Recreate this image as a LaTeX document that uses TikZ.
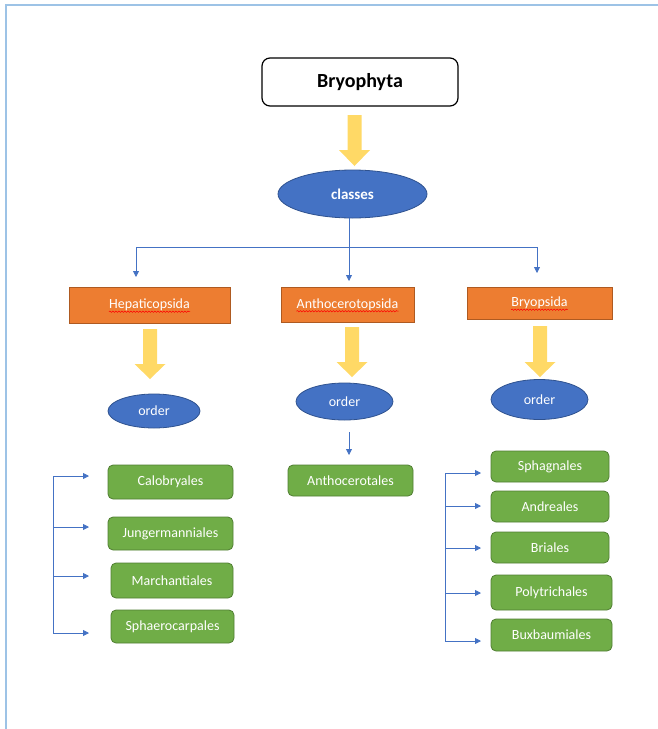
\documentclass[tikz,border=0pt]{standalone}
\usepackage{fontspec}
\setmainfont{Carlito}
\usetikzlibrary{shapes.geometric,arrows.meta,decorations.pathmorphing}
\definecolor{frameblue}{HTML}{9DC3E6}
\definecolor{accblue}{HTML}{4472C4}
\definecolor{accblueD}{HTML}{2F528F}
\definecolor{accorange}{HTML}{ED7D31}
\definecolor{accorangeD}{HTML}{AE5A21}
\definecolor{accgreen}{HTML}{70AD47}
\definecolor{accgreenD}{HTML}{507E32}
\definecolor{accyellow}{HTML}{FFD966}
\newcommand\yarr[4]{% centre x, top y, head start y, tip y
  \fill[accyellow] (#1-7,#2) -- (#1+7,#2) -- (#1+7,#3) -- (#1+15.5,#3) -- (#1,#4)
    -- (#1-15.5,#3) -- (#1-7,#3) -- cycle;}
\begin{document}
\begin{tikzpicture}[x=1pt,y=-1pt,
  topbox/.style={draw=black,line width=1.2pt,rounded corners=8pt,fill=white,
    inner sep=0pt,font=\fontsize{20}{24}\selectfont\bfseries},
  blueell/.style={ellipse,draw=accblueD,line width=0.8pt,fill=accblue,text=white,
    inner sep=0pt,font=\fontsize{14}{17}\selectfont},
  orbox/.style={rectangle,draw=accorangeD,line width=0.8pt,fill=accorange,text=white,
    inner sep=0pt,font=\fontsize{14}{17}\selectfont},
  grbox/.style={rectangle,rounded corners=5pt,draw=accgreenD,line width=0.8pt,fill=accgreen,
    text=white,inner sep=0pt,font=\fontsize{14}{17}\selectfont},
  conn/.style={draw=accblue,line width=0.8pt},
  connarr/.style={conn,-{Triangle[length=6pt,width=6pt]}},
  wavy/.style={draw=red,line width=0.5pt,decorate,
    decoration={snake,amplitude=0.7pt,segment length=3pt}},
  ph/.style={inner sep=0pt,anchor=base,font=\fontsize{14}{17}\selectfont}
]
\useasboundingbox (0,0) rectangle (658,729);
% frame
\draw[frameblue,line width=1.5pt] (6,729) -- (6,5) -- (658,5);

% top
\node[topbox,minimum width=196pt,minimum height=48pt] (bryo) at (360,82) {Bryophyta};
\yarr{354.5}{115}{150}{166}
\node[blueell,minimum width=149pt,minimum height=48pt,font=\fontsize{15}{18}\selectfont\bfseries] (classes) at (352.5,194) {classes};

% classes connectors
\coordinate (hbar) at (349,247);
\coordinate (dl) at (136,247);
\coordinate (dr) at (537,247);
\coordinate (tl) at (136,277);
\coordinate (tm) at (349,281);
\coordinate (tr) at (537,273);
\draw[conn] (classes.south -| hbar) -- (hbar);
\draw[conn] (dl) -- (dr);
\draw[connarr] (dl) -- (tl);
\draw[connarr] (hbar) -- (tm);
\draw[connarr] (dr) -- (tr);

% classes
\node[orbox,minimum width=161pt,minimum height=36pt] (hep) at (149.5,305) {Hepaticopsida};
\node[orbox,minimum width=133pt,minimum height=35pt] (antho) at (347.5,304.5) {Anthocerotopsida};
\node[orbox,minimum width=145pt,minimum height=32pt] (bryops) at (539.5,303) {Bryopsida};
\node[ph] (hepT) at (hep.base) {\phantom{Hepaticopsida}};
\node[ph] (anthoT) at (antho.base) {\phantom{Anthocerotopsida}};
\node[ph] (bryopsT) at (bryops.base) {\phantom{Bryopsida}};
\draw[wavy] ([yshift=-3pt]hepT.base west) -- ([yshift=-3pt]hepT.base east);
\draw[wavy] ([yshift=-3pt]anthoT.base west) -- ([yshift=-3pt]anthoT.base east);
\draw[wavy] ([yshift=-3pt]bryopsT.base west) -- ([yshift=-3pt]bryopsT.base east);

% yellow arrows
\yarr{150}{329}{364}{379}
\yarr{352}{327}{362}{377}
\yarr{540}{326}{362}{377}

% order ellipses
\node[blueell,minimum width=92pt,minimum height=34pt] (ord1) at (154,411) {order};
\node[blueell,minimum width=97pt,minimum height=37pt] (ord2) at (344.5,401.5) {order};
\node[blueell,minimum width=97pt,minimum height=40pt] (ord3) at (539.5,399.5) {order};

% left group
\node[grbox,minimum width=125pt,minimum height=34pt] (calob) at (170.5,482) {Calobryales};
\node[grbox,minimum width=125pt,minimum height=33pt] (junger) at (170.5,533.5) {Jungermanniales};
\node[grbox,minimum width=122pt,minimum height=35pt] (march) at (172,580.5) {Marchantiales};
\node[grbox,minimum width=123pt,minimum height=33pt] (sphaero) at (172.5,626.5) {Sphaerocarpales};
\coordinate (lv1) at (53,476);
\coordinate (lv2) at (53,527);
\coordinate (lv3) at (53,576);
\coordinate (lv4) at (53,633);
\draw[conn] (lv1) -- (lv4);
\draw[connarr] (lv1) -- (89,476);
\draw[connarr] (lv2) -- (89,527);
\draw[connarr] (lv3) -- (89,576);
\draw[connarr] (lv4) -- (89,633);

% middle
\node[grbox,minimum width=125pt,minimum height=31pt] (anthoc) at (350.5,480.5) {Anthocerotales};
\coordinate (ms) at (349,432);
\coordinate (me) at (349,455);
\draw[connarr] (ms) -- (me);

% right group
\node[grbox,minimum width=118pt,minimum height=31pt] (sphag) at (550,466.5) {Sphagnales};
\node[grbox,minimum width=118pt,minimum height=31pt] (andre) at (550,506.5) {Andreales};
\node[grbox,minimum width=118pt,minimum height=31pt] (bria) at (550,547.5) {Briales};
\node[grbox,minimum width=121pt,minimum height=35pt] (polyt) at (551.5,592.5) {Polytrichales};
\node[grbox,minimum width=121pt,minimum height=32pt] (buxb) at (551.5,635) {Buxbaumiales};
\coordinate (rv1) at (445,473);
\coordinate (rv2) at (445,506);
\coordinate (rv3) at (445,548);
\coordinate (rv4) at (445,593);
\coordinate (rv5) at (445,641);
\draw[conn] (rv1) -- (rv5);
\draw[connarr] (rv1) -- (481,473);
\draw[connarr] (rv2) -- (481,506);
\draw[connarr] (rv3) -- (481,548);
\draw[connarr] (rv4) -- (481,593);
\draw[connarr] (rv5) -- (481,641);
\end{tikzpicture}
\end{document}
